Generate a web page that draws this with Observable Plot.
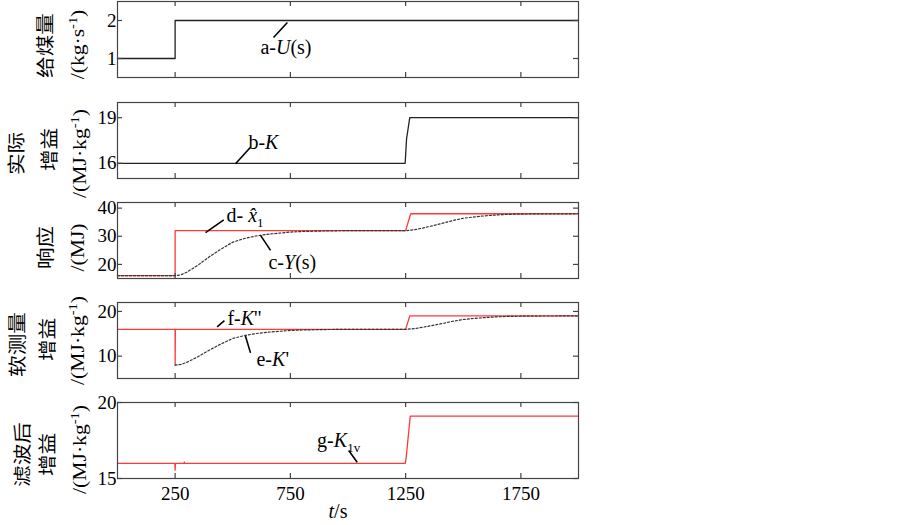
<!DOCTYPE html>
<html>
<head>
<meta charset="utf-8">
<script src="https://cdn.jsdelivr.net/npm/d3@7"></script>
<script src="https://cdn.jsdelivr.net/npm/@observablehq/plot@0.6"></script>
<style>
  body { margin: 0; background: #fff; }
  #chart { position: relative; width: 903px; height: 525px; overflow: hidden; background: #fff; }
  #chart svg { position: absolute; left: 0; }
</style>
</head>
<body>
<div id="chart"></div>
<script>
// ---------------- data ----------------
const xDomain = [0, 2000];
const xTicks = [250, 750, 1250, 1750];

// panel 1: coal feed U(s)
const uTime = [0, 250, 2000];
const uValue = [1, 2, 2];
const uTicks = [1, 2];

// panel 2: actual gain K
const kTime = [0, 1248, 1254, 1268, 2000];
const kValue = [16, 16, 17.6, 19, 19];
const kTicks = [16, 19];

// panel 3: response, x-hat1 (red) and Y(s) (dotted)
const xhatTime = [0, 250, 250, 1250, 1272, 2000];
const xhatValue = [16, 16, 32, 32, 38, 38];
const yTime = [0, 250, 275, 300, 350, 400, 450, 500, 550, 600, 650, 700, 750, 800, 900, 1000,
               1250, 1275, 1300, 1350, 1400, 1450, 1500, 1550, 1600, 1650, 1700, 1800, 2000];
const yValue = [16, 16, 16.3, 17.2, 19.8, 22.8, 25.5, 27.9, 29.2, 30.1, 30.7, 31.1, 31.5, 31.7, 31.9, 32,
                32, 32.2, 32.5, 33.4, 34.4, 35.5, 36.4, 36.9, 37.3, 37.6, 37.8, 37.95, 38];
const respTicks = [20, 30, 40];

// panel 4: soft-sensor gain, K'' (red) and K' (dotted)
const kppTime = [0, 250, 250, 251, 1250, 1268, 2000];
const kppValue = [16, 16, 8, 16, 16, 19, 19];
const kpTime = [250, 275, 300, 350, 400, 450, 500, 550, 600, 650, 700, 750, 800, 900, 1000,
                1250, 1275, 1300, 1350, 1400, 1450, 1500, 1550, 1600, 1650, 1700, 1800, 2000];
const kpValue = [8, 8.15, 8.6, 9.9, 11.4, 12.75, 13.95, 14.6, 15.05, 15.35, 15.55, 15.75, 15.85, 15.95, 16,
                 16, 16.1, 16.25, 16.7, 17.2, 17.75, 18.2, 18.45, 18.65, 18.8, 18.9, 18.97, 19];
const softTicks = [10, 20];

// panel 5: filtered gain K1v
const gTime = [0, 249, 250, 251, 289, 290, 291, 1248, 1252, 1270, 2000];
const gValue = [16, 16, 15.55, 16, 16, 16.07, 16, 16, 16.3, 19.1, 19.1];
const filtTicks = [15, 20];

// annotations (data units)
const annos1 = [{label: "a-U(s)", t: 620, v: 1.29, t1: 677, v1: 1.553, t2: 737, v2: 1.947}];
const annos2 = [{label: "b-K", t: 568, v: 17.39, t1: 512, v1: 15.97, t2: 577, v2: 17.06}];
const annos3 = [
  {label: "d- x\u03021", t: 473, v: 37.3, t1: 382, v1: 31.3, t2: 461, v2: 35.8},
  {label: "c-Y(s)", t: 655, v: 20.5, t1: 620, v1: 30.4, t2: 664, v2: 25.0}
];
const annos4 = [
  {label: "f-K''", t: 477, v: 18.37, t1: 432, v1: 16.56, t2: 464, v2: 17.92},
  {label: "e-K'", t: 603, v: 9.31, t1: 555, v1: 14.52, t2: 577, v2: 10.73}
];
const annos5 = [{label: "g-K1v", t: 866, v: 17.5, t1: 1003, v1: 16.84, t2: 1040, v2: 16.07}];

// y-axis titles (Chinese + unit)
const titles1 = ["给煤量", "/(kg·s-1)"];
const titles2 = ["实际", "增益", "/(MJ·kg-1)"];
const titles3 = ["响应", "/(MJ)"];
const titles4 = ["软测量", "增益", "/(MJ·kg-1)"];
const titles5 = ["滤波后", "增益", "/(MJ·kg-1)"];

// ---------------- rendering ----------------
const SERIF = "'Liberation Serif', 'Times New Roman', serif";
const CJK = "'Noto Sans CJK SC', sans-serif";
const FRAME = "#444";
const RED = "#ff3838";
const BLACK = "#222";

const RICH = {
  "a-U(s)": [["a-"], ["U", "i"], ["(s)"]],
  "b-K": [["b-"], ["K", "i"]],
  "d- x\u03021": [["d- "], ["x\u0302", "i"], ["1", "sub"]],
  "c-Y(s)": [["c-"], ["Y", "i"], ["(s)"]],
  "f-K''": [["f-"], ["K", "i"], ["''"]],
  "e-K'": [["e-"], ["K", "i"], ["'"]],
  "g-K1v": [["g-"], ["K", "i"], ["1v", "sub"]],
  "t/s": [["t", "i"], ["/s"]],
  "/(kg·s-1)": [["/(kg·s"], ["-1", "sup"], [")"]],
  "/(MJ·kg-1)": [["/(MJ·kg"], ["-1", "sup"], [")"]]
};

function enrich(svg) {
  svg.querySelectorAll("text").forEach(el => {
    const tr = el.getAttribute("transform");
    if (tr && tr.includes("rotate(-90)")) el.setAttribute("transform", tr + " scale(1.2,1)");
    const segs = RICH[el.textContent];
    if (!segs) return;
    el.textContent = "";
    let shift = 0;
    for (const [s, style = ""] of segs) {
      const ts = document.createElementNS("http://www.w3.org/2000/svg", "tspan");
      ts.textContent = s;
      let target = 0;
      if (style === "i") ts.setAttribute("font-style", "italic");
      if (style === "sup") { target = -7; ts.setAttribute("font-size", "12px"); }
      if (style === "sub") { target = 5; ts.setAttribute("font-size", "13px"); }
      if (target - shift !== 0) ts.setAttribute("dy", target - shift);
      shift = target;
      el.appendChild(ts);
    }
  });
}

const W = 903, ML = 117, MR = 325, MT = 2, INNER_H = 76;
const INNER_W = W - ML - MR;
const fmt = d => String(d);

function panel({top, domain, ticks, lines, annos, titles, titleX, titleY, bottomAxis = false}) {
  const height = bottomAxis ? 125 : 100;
  const MB = height - MT - INNER_H;
  const center = top + MT + INNER_H / 2;
  const titleMarks = titles.map((t, i) => Plot.text([t], {
    text: d => d,
    frameAnchor: "left",
    textAnchor: "middle",
    lineAnchor: "middle",
    dx: titleX[i] - ML,
    dy: titleY[i] - center,
    rotate: -90,
    fontSize: 18,
    fontFamily: /[\u4e00-\u9fff]/.test(t) ? CJK : SERIF,
    fill: "#000"
  }));
  const svg = Plot.plot({
    width: W, height,
    marginLeft: ML, marginRight: MR, marginTop: MT, marginBottom: MB,
    style: {fontFamily: SERIF, fontSize: "19px", color: "#000", background: "transparent", overflow: "visible"},
    x: {domain: xDomain, axis: null},
    y: {domain, axis: null},
    marks: [
      ...lines,
      Plot.frame({stroke: FRAME, strokeWidth: 1.2}),
      Plot.tickX(xTicks, {x: d => d, insetBottom: INNER_H - 5, stroke: FRAME, strokeWidth: 1.2}),
      Plot.tickX(xTicks, {x: d => d, insetTop: INNER_H - 5, stroke: FRAME, strokeWidth: 1.2}),
      Plot.tickY(ticks, {y: d => d, insetRight: INNER_W - 5, stroke: FRAME, strokeWidth: 1.2}),
      Plot.tickY(ticks, {y: d => d, insetLeft: INNER_W - 5, stroke: FRAME, strokeWidth: 1.2}),
      Plot.axisY({ticks, anchor: "left", tickSize: 0, tickPadding: 1, tickFormat: fmt, label: null, fontSize: 19, fill: "#000"}),
      bottomAxis ? Plot.axisX({ticks: xTicks, anchor: "bottom", tickSize: 0, tickPadding: 8, tickFormat: fmt, label: null, fontSize: 19, fill: "#000"}) : null,
      bottomAxis ? Plot.text(["t/s"], {text: d => d, frameAnchor: "bottom", textAnchor: "middle", dx: -10, dy: 39, fontSize: 20, fill: "#000"}) : null,
      Plot.link(annos, {x1: "t1", y1: "v1", x2: "t2", y2: "v2", stroke: "#000", strokeWidth: 1.6}),
      Plot.text(annos, {x: "t", y: "v", text: "label", textAnchor: "start", fontSize: 20, fill: "#000"}),
      ...titleMarks
    ]
  });
  svg.style.top = top + "px";
  enrich(svg);
  document.getElementById("chart").appendChild(svg);
}

const idx = a => a.map((_, i) => i);

panel({
  top: -1, domain: [0.5, 2.5], ticks: uTicks,
  lines: [Plot.line(idx(uTime), {x: i => uTime[i], y: i => uValue[i], curve: "step-after", stroke: BLACK, strokeWidth: 1.3})],
  annos: annos1, titles: titles1, titleX: [46, 78], titleY: [45, 44]
});

panel({
  top: 100, domain: [15, 20], ticks: kTicks,
  lines: [Plot.line(idx(kTime), {x: i => kTime[i], y: i => kValue[i], stroke: BLACK, strokeWidth: 1.3})],
  annos: annos2, titles: titles2, titleX: [17, 50, 80], titleY: [153, 149, 153]
});

panel({
  top: 200, domain: [15, 42], ticks: respTicks,
  lines: [
    Plot.line(idx(xhatTime), {x: i => xhatTime[i], y: i => xhatValue[i], stroke: RED, strokeWidth: 1.3}),
    Plot.line(idx(yTime), {x: i => yTime[i], y: i => yValue[i], stroke: "#333", strokeWidth: 1.2, strokeDasharray: "2,2"})
  ],
  annos: annos3, titles: titles3, titleX: [46, 78], titleY: [247, 247]
});

panel({
  top: 300, domain: [5, 22], ticks: softTicks,
  lines: [
    Plot.line(idx(kppTime), {x: i => kppTime[i], y: i => kppValue[i], stroke: RED, strokeWidth: 1.3}),
    Plot.line(idx(kpTime), {x: i => kpTime[i], y: i => kpValue[i], stroke: "#333", strokeWidth: 1.2, strokeDasharray: "2,2"})
  ],
  annos: annos4, titles: titles4, titleX: [18, 48, 78], titleY: [344, 339, 340]
});

panel({
  top: 400, domain: [15, 20], ticks: filtTicks, bottomAxis: true,
  lines: [Plot.line(idx(gTime), {x: i => gTime[i], y: i => gValue[i], stroke: RED, strokeWidth: 1.3})],
  annos: annos5, titles: titles5, titleX: [23, 48, 80], titleY: [454, 454, 449]
});
</script>
</body>
</html>
